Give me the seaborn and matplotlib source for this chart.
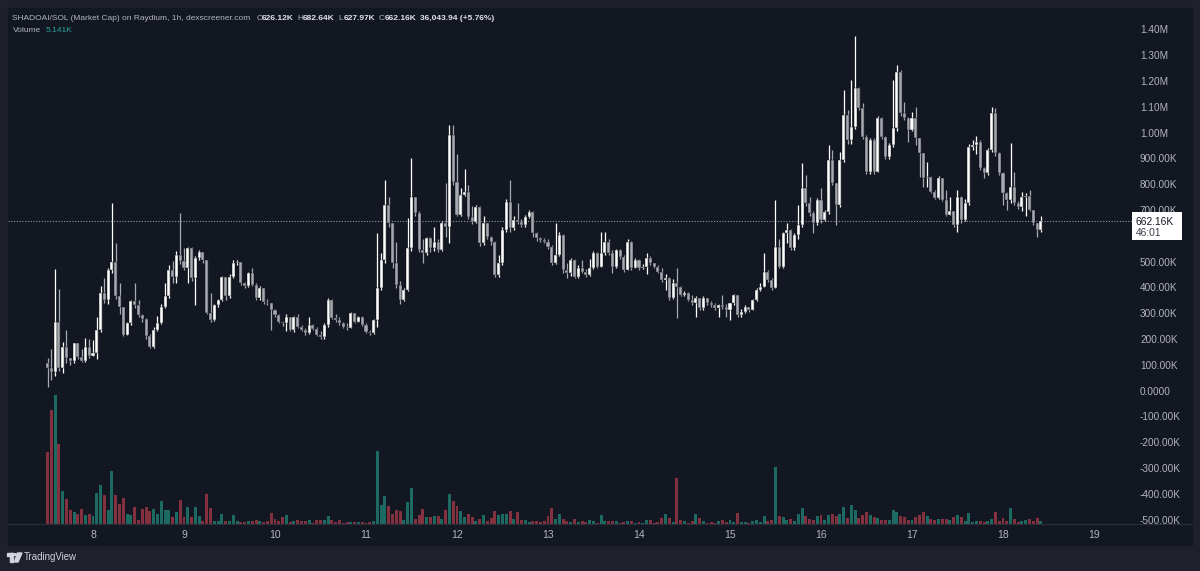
import numpy as np
import pandas as pd
import matplotlib
matplotlib.use('Agg')
import matplotlib.pyplot as plt
import seaborn as sns
from matplotlib.patches import Rectangle, Circle, Polygon
from matplotlib.lines import Line2D

# SHADOAI/SOL market cap, 1h candles, 7th 12:00 -> 18th 10:00 (values in K)
close_k = [
    90, 75, 271, 90, 174, 130, 120, 187, 135, 120, 174, 140, 150, 240, 381, 355, 472, 504, 370, 330,
    220, 265, 350, 335, 297, 280, 215, 175, 240, 268, 330, 371, 470, 445, 530, 505, 478, 556,
    440, 517, 540, 510, 304, 278, 336, 355, 446, 370, 446, 498, 504, 423, 410, 459, 414, 362, 400, 349,
    342, 317, 297, 271, 265, 291, 240, 291, 252, 239, 226, 258, 244, 220, 213, 258, 355, 285, 278, 265,
    252, 245, 304, 272, 291, 259, 233, 226, 278,
    401, 510, 724, 652, 497, 413, 355, 394, 556, 756, 691, 549, 536, 594, 556, 580, 550, 652, 640, 995,
    814, 685, 762, 775, 678, 659, 717, 575, 652, 601, 581, 452, 497, 627, 736, 633, 665, 659, 646, 678,
    698, 614, 594, 588, 581, 562, 497, 530, 607, 472, 460,
    510, 446, 478, 465, 452, 478, 536, 485, 536, 582, 536, 485, 549, 523, 472, 582, 478, 510, 478, 485,
    517, 498, 485, 465, 433, 440, 362, 420, 407, 375, 381, 355, 342, 362, 323, 362, 342, 336, 323, 335,
    330, 316, 342, 375, 297, 310, 329, 318, 355, 394, 407,
    465, 433, 401, 562, 485, 614, 627, 556, 607, 646, 788, 730, 691, 652, 743, 665, 698, 898, 808, 724,
    898, 1072, 975, 1027, 1176, 1098, 989, 853, 975, 853, 1060, 988, 911, 956, 1021, 1240, 1079,
    1060, 1014, 1060, 982, 924, 827, 833, 775, 750, 827, 743, 685, 700, 646, 756, 665, 730, 950, 956, 969,
    866, 846, 937, 1079, 924, 846, 769, 743, 794, 730, 717, 756, 760, 704, 652, 627, 662.16,
]
high_k = [
    130, 165, 475, 397, 194, 240, 130, 190, 190, 165, 210, 205, 200, 290, 410, 440, 480, 733, 575, 420,
    330, 270, 355, 420, 355, 300, 285, 225, 250, 293, 340, 420, 490, 505, 545, 692, 556, 560,
    562, 525, 549, 525, 504, 381, 340, 360, 450, 420, 455, 510, 510, 500, 425, 465, 480, 420, 410, 400,
    360, 345, 320, 300, 275, 300, 290, 295, 300, 260, 245, 291, 262, 250, 235, 265, 362, 360, 300, 290,
    270, 265, 310, 305, 295, 295, 265, 240, 282,
    614, 536, 820, 756, 652, 580, 430, 400, 672, 907, 756, 700, 590, 600, 600, 640, 590, 660, 808, 1034,
    1034, 920, 790, 862, 800, 720, 725, 720, 680, 655, 605, 585, 530, 640, 745, 820, 680, 730, 670, 685,
    705, 700, 620, 600, 595, 590, 570, 652, 620, 610, 500,
    520, 515, 490, 510, 475, 515, 545, 540, 620, 620, 590, 550, 555, 555, 530, 590, 585, 520, 515, 495,
    536, 525, 500, 490, 480, 455, 445, 435, 478, 410, 390, 385, 375, 370, 365, 370, 365, 350, 345, 340,
    375, 340, 345, 380, 370, 320, 335, 330, 360, 400, 420,
    536, 470, 440, 743, 590, 620, 653, 630, 615, 724, 885, 840, 756, 700, 750, 788, 705, 956, 937, 790,
    930, 1169, 1092, 1208, 1379, 1180, 1118, 995, 985, 985, 1070, 1065, 990, 965, 1208, 1266, 1245,
    1124, 1065, 1085, 1105, 985, 925, 891, 835, 780, 835, 830, 780, 756, 700, 780, 760, 745, 960, 975, 990,
    975, 870, 945, 1104, 1098, 930, 850, 775, 963, 850, 740, 775, 770, 780, 705, 655, 682.64,
]
low_k = [
    20, 45, 60, 80, 72, 110, 105, 110, 125, 115, 115, 130, 140, 128, 230, 345, 340, 460, 360, 300,
    215, 220, 260, 325, 290, 270, 205, 170, 170, 235, 262, 325, 365, 420, 420, 495, 470, 420,
    430, 336, 510, 500, 300, 270, 275, 330, 350, 355, 365, 440, 490, 415, 400, 405, 410, 355, 355, 340,
    335, 239, 290, 265, 255, 235, 235, 230, 245, 235, 220, 222, 240, 215, 205, 205, 250, 280, 270, 258,
    245, 240, 245, 268, 270, 255, 228, 220, 222,
    250, 395, 500, 640, 480, 400, 340, 350, 390, 545, 680, 540, 497, 530, 540, 545, 540, 545, 600, 575,
    800, 680, 680, 760, 670, 650, 655, 565, 570, 590, 570, 445, 445, 490, 620, 620, 625, 650, 640, 640,
    675, 600, 585, 580, 575, 555, 490, 495, 525, 460, 440,
    450, 440, 440, 460, 445, 450, 475, 480, 485, 530, 530, 459, 480, 515, 465, 470, 470, 500, 470, 475,
    455, 490, 478, 460, 425, 395, 355, 360, 285, 370, 370, 350, 335, 290, 315, 318, 335, 330, 318, 290,
    320, 290, 278, 335, 290, 290, 305, 310, 315, 350, 390,
    405, 425, 395, 400, 480, 480, 575, 550, 550, 590, 640, 720, 680, 614, 645, 655, 660, 690, 800, 646,
    715, 890, 960, 960, 1020, 1090, 980, 845, 845, 845, 850, 980, 900, 900, 950, 1010, 1070,
    1055, 969, 1010, 956, 833, 795, 795, 770, 745, 745, 740, 680, 690, 640, 620, 655, 660, 725, 935, 920,
    860, 830, 840, 930, 915, 840, 724, 704, 730, 725, 710, 700, 680, 700, 645, 600, 620,
]
volume_k = [
    144, 228, 258, 160, 66, 50, 28, 24, 20, 30, 18, 20, 16, 62, 78, 58, 28, 106, 58, 40,
    52, 20, 18, 34, 8, 30, 34, 26, 30, 20, 46, 28, 28, 14, 24, 48, 14, 34,
    14, 34, 16, 6, 60, 32, 6, 6, 20, 6, 6, 18, 6, 4, 4, 6, 6, 8, 6, 4,
    6, 22, 10, 6, 14, 18, 4, 6, 8, 6, 6, 8, 2, 8, 8, 8, 16, 8, 4, 8,
    2, 4, 4, 4, 4, 4, 2, 4, 6,
    146, 38, 56, 36, 20, 28, 26, 8, 44, 72, 10, 18, 30, 14, 14, 16, 16, 10, 28, 60,
    46, 36, 26, 14, 20, 14, 6, 10, 18, 6, 12, 26, 18, 20, 20, 26, 10, 24, 8, 8,
    4, 6, 6, 4, 6, 16, 32, 10, 20, 10, 6,
    4, 10, 4, 6, 4, 8, 6, 2, 18, 6, 6, 6, 6, 2, 4, 6, 6, 2, 4, 2,
    8, 8, 2, 4, 12, 20, 12, 4, 92, 8, 6, 2, 6, 20, 12, 6, 2, 4, 2, 6,
    8, 4, 8, 4, 22, 4, 4, 2, 6, 8, 4,
    16, 6, 8, 114, 16, 14, 8, 10, 6, 20, 32, 16, 10, 8, 16, 18, 8, 18, 20, 16,
    20, 34, 12, 38, 28, 12, 18, 24, 18, 14, 12, 8, 8, 8, 28, 24, 16, 14, 8, 8, 14, 18,
    24, 16, 10, 8, 10, 10, 10, 8, 14, 18, 14, 6, 22, 4, 6, 6, 4, 6, 10, 24,
    6, 12, 6, 32, 10, 4, 6, 8, 10, 6, 12, 5.141,
]
first_open_k = 110
last_price_k = 662.16
countdown = '46:01'
day_ticks = list(range(8, 20))
price_ticks_k = list(range(1400, -600, -100))

title = 'SHADOAI/SOL (Market Cap) on Raydium, 1h, dexscreener.com'
ohlc_labels = [('O', '626.12K'), ('H', '682.64K'), ('L', '627.97K'), ('C', '662.16K')]
change_label = '36,043.94 (+5.76%)'
volume_label = '5.141K'

# colours
FRAME = '#1e212b'
BG = '#131722'
GRID_LINE = '#2a2e39'
TXT = '#b2b5be'
TXT_HI = '#e1e3ea'
UP = '#ffffff'
DOWN = '#a6a9b0'
VOL_UP = '#1c6a61'
VOL_DOWN = '#83313f'

sns.set_theme(style='dark', rc={'axes.facecolor': BG, 'figure.facecolor': FRAME,
                                'axes.edgecolor': BG, 'axes.grid': False})
plt.rcParams['font.family'] = ['Liberation Sans', 'DejaVu Sans']

times = pd.date_range('2024-01-07 12:00', periods=len(close_k), freq='h')
df = pd.DataFrame({'time': times, 'close': close_k, 'high': high_k,
                   'low': low_k, 'volume': volume_k})
df['open'] = df['close'].shift(1).fillna(first_open_k)
df['high'] = df[['high', 'open', 'close']].max(axis=1)
df['low'] = df[['low', 'open', 'close']].min(axis=1)
df['x'] = df['time'].dt.day + df['time'].dt.hour / 24
df['up'] = df['close'] >= df['open']

W, H = 1200, 571
fig = plt.figure(figsize=(12, 5.71), dpi=100)


def fx(px):
    return px / W


def fy(py):
    return 1 - py / H


# widget background
fig.add_artist(Rectangle((fx(8), fy(545)), (1192 - 8) / W, (545 - 8) / H,
                         transform=fig.transFigure, color=BG, zorder=0))

pane = [fx(8), fy(524), (1100 - 8) / W, (524 - 8) / H]
ax = fig.add_axes(pane)
ax_v = ax.twinx()
ax.set_zorder(2)
ax_v.set_zorder(1)
ax.patch.set_visible(False)
ax_v.patch.set_visible(False)

ax.set_xlim(7.0659, 19.066)
ax.set_ylim(-512.8, 1487.2)
ax_v.set_ylim(0, 1032)

hour = 1 / 24

# volume
vol_colors = np.where(df['up'], VOL_UP, VOL_DOWN)
ax_v.bar(df['x'], df['volume'], width=0.78 * hour, color=vol_colors, linewidth=0)

# candles
body_lo = df[['open', 'close']].min(axis=1)
body_h = (df['close'] - df['open']).abs().clip(lower=3)
cols = np.where(df['up'], UP, DOWN)
ax.vlines(df['x'], df['low'], df['high'], colors=cols, linewidth=0.9, zorder=2)
ax.bar(df['x'], body_h, bottom=body_lo, width=0.8 * hour, color=cols,
       edgecolor='#05070b', linewidth=0.3, zorder=3)

# last price line
ax.axhline(last_price_k, color='#9598a1', linewidth=0.8, linestyle=(0, (1, 1.5)), zorder=1)

for a in (ax, ax_v):
    sns.despine(ax=a, left=True, right=True, top=True, bottom=True)
    a.tick_params(left=False, right=False, labelleft=False, labelright=False)
ax.set_xticks(day_ticks)
ax.set_xticklabels([str(d) for d in day_ticks])
ax.tick_params(axis='x', length=0, pad=4.5, labelsize=7.5, labelcolor=TXT)
ax_v.tick_params(axis='x', bottom=False, labelbottom=False)

# price scale
ax_p = fig.add_axes([fx(1100), fy(524), (1192 - 1100) / W, (524 - 8) / H])
ax_p.set_ylim(ax.get_ylim())
ax_p.set_xlim(0, 1)
ax_p.axis('off')
box_lo, box_hi = last_price_k - 74, last_price_k + 34
for v in price_ticks_k:
    if box_lo - 10 < v < box_hi - 40:
        continue  # covered by the last-price tag
    if abs(v) >= 1000:
        lab = f'{v / 1000:.2f}M'
    elif v == 0:
        lab = '0.0000'
    else:
        lab = f'{v:.2f}K'
    ax_p.text((1140 - 1100) / 92, v, lab, color=TXT, fontsize=7.2,
              va='center', ha='left', clip_on=True)

ax_p.add_patch(Rectangle(((1132 - 1100) / 92, box_lo), 50 / 92, box_hi - box_lo,
                         facecolor='#ffffff', edgecolor='none', zorder=5))
ax_p.text((1136 - 1100) / 92, last_price_k - 3, f'{last_price_k:.2f}K', color=BG,
          fontsize=7.4, va='center', ha='left', zorder=6)
ax_p.text((1136 - 1100) / 92, last_price_k - 47, countdown, color='#3a3e4a',
          fontsize=7.4, va='center', ha='left', zorder=6)
fig.add_artist(Line2D([fx(1100), fx(1132)], [fy(221), fy(221)], color='#9598a1',
                      linewidth=0.8, linestyle=(0, (1, 1.5)), transform=fig.transFigure))

# time axis separator
fig.add_artist(Line2D([fx(8), fx(1192)], [fy(524), fy(524)], color=GRID_LINE,
                      linewidth=0.8, transform=fig.transFigure, zorder=4))

# legend / header
hdr = 6.0
fig.text(fx(12.5), fy(18), title, color=TXT, fontsize=hdr, va='center', ha='left')
xs = [256.5, 297.5, 338, 379]
for (k, val), x0 in zip(ohlc_labels, xs):
    fig.text(fx(x0), fy(18), k, color=TXT, fontsize=hdr, va='center', ha='left')
    fig.text(fx(x0 + 5.5), fy(18), val, color=TXT_HI, fontsize=hdr, va='center',
             ha='left', fontweight='bold')
fig.text(fx(420), fy(18), change_label, color=TXT_HI, fontsize=hdr, va='center',
         ha='left', fontweight='bold')
fig.text(fx(12.5), fy(30), 'Volume', color=TXT, fontsize=hdr, va='center', ha='left')
fig.text(fx(46), fy(30), volume_label, color='#26a69a', fontsize=hdr, va='center', ha='left')

# TradingView footer
logo = '#d1d4dc'
fig.add_artist(Rectangle((fx(7), fy(556)), 6 / W, 3 / H, transform=fig.transFigure, color=logo))
fig.add_artist(Rectangle((fx(9.5), fy(562)), 3 / W, 9 / H, transform=fig.transFigure, color=logo))
fig.add_artist(Circle((fx(15), fy(554.5)), 1.6 / W, transform=fig.transFigure, color=logo))
fig.add_artist(Polygon([(fx(17.5), fy(553)), (fx(22), fy(553)), (fx(18), fy(562)),
                        (fx(14.5), fy(562))], closed=True, transform=fig.transFigure,
                       color=logo))
fig.text(fx(24), fy(557.5), 'TradingView', color=logo, fontsize=6.9, va='center', ha='left')

fig.savefig('out.png', dpi=100, facecolor=FRAME)
